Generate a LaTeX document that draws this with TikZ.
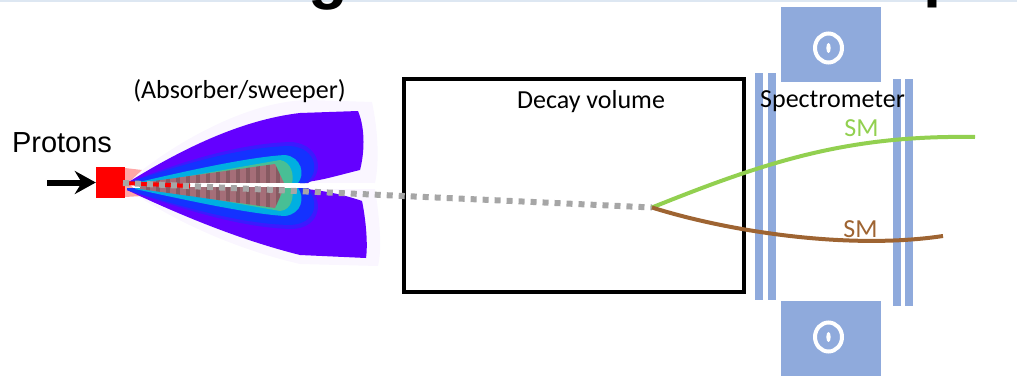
\documentclass[tikz,border=0pt]{standalone}
\usepackage{fontspec}
\setmainfont{Carlito}
\newfontfamily\arialfont{Liberation Sans}
\usetikzlibrary{arrows.meta,positioning}

\definecolor{magblue}{HTML}{8FAADC}
\definecolor{smgreen}{HTML}{92D050}
\definecolor{smbrown}{RGB}{158,100,50}
\definecolor{beamgray}{HTML}{A6A6A6}
\definecolor{rulecol}{HTML}{DDE7F2}
\definecolor{plumeviolet}{RGB}{100,0,255}
\definecolor{plumeblue}{RGB}{20,50,255}
\definecolor{plumecyan}{RGB}{0,175,225}
\definecolor{plumegreen}{RGB}{90,195,130}
\definecolor{plumecore}{RGB}{165,110,120}

\begin{document}
\begin{tikzpicture}[x=1pt, y=-1pt,
  lbl/.style={font=\fontsize{26}{30}\selectfont, inner sep=0pt, anchor=base},
  ttl/.style={font=\arialfont\bfseries\fontsize{65}{70}\selectfont, inner sep=0pt},
  magnet/.style={fill=magblue, minimum width=100pt, minimum height=75pt, inner sep=0pt},
  plate/.style={fill=magblue},
  fieldsym/.style={white, line width=4pt},
  track/.style={line width=4pt},
  beam/.style={beamgray, line width=6pt, dash pattern=on 6pt off 6pt},
  parr/.style={-{Stealth[length=21pt, width=23pt, inset=7pt]}, line width=6pt}
]
\useasboundingbox (0,0) rectangle (1017,380);

% slide title, cut off at the top
\draw[rulecol, line width=2pt] (0,1) -- (1017,1);
\begin{scope}
  \clip (0,0) rectangle (1017,380);
  \node[ttl, anchor=base] (ttlg) at (328,-4) {g};
  \node[ttl, anchor=base west] (ttlp) at (923,-5.5) {p};
\end{scope}

% target and incoming beam
\node[fill=red, minimum width=29pt, minimum height=31pt, inner sep=0pt] (tgt) at (110.5,182.5) {};
\fill[red, opacity=0.35] (125,168) -- (142,170) -- (128,183) -- (142,196) -- (125,197) -- cycle;
\coordinate (ptail) at (47,182.5);
\draw[parr] (ptail) -- (tgt.west);
\node[font=\arialfont\fontsize{29}{32}\selectfont, inner sep=0pt, anchor=base] (protons) at (62,152) {Protons};

% shower in the absorber
\fill[plumeviolet, opacity=0.035] (127,182) .. controls (190,130) and (260,100) .. (310,100)
  -- (372,102) .. controls (380,140) and (378,170) .. (375,183) -- cycle;
\fill[plumeviolet, opacity=0.035] (127,189) -- (375,189) .. controls (380,220) and (382,250) .. (378,266)
  -- (300,264) .. controls (240,250) and (180,225) .. cycle;
\fill[plumeviolet] (127,183) .. controls (180,150) and (240,120) .. (300,113) -- (358,111)
  .. controls (366,130) and (364,155) .. (360,170) .. controls (335,176) and (315,183) .. (290,183) -- cycle;
\fill[plumeviolet] (127,188) -- (290,188) .. controls (320,189) and (345,195) .. (362,201)
  .. controls (366,220) and (368,245) .. (366,258) -- (300,255) .. controls (240,240) and (180,215) .. (127,190) -- cycle;
\fill[plumeviolet!50!plumeblue] (127,183) .. controls (180,162) and (240,143) .. (292,142)
  .. controls (322,145) and (324,175) .. (308,183) -- cycle;
\fill[plumeviolet!50!plumeblue] (127,188) -- (308,188) .. controls (324,198) and (322,228) .. (292,229)
  .. controls (240,228) and (180,208) .. (127,190) -- cycle;
\fill[plumeblue] (127,183) .. controls (180,165) and (240,147) .. (290,146)
  .. controls (318,148) and (320,175) .. (305,183) -- cycle;
\fill[plumeblue] (127,188) -- (305,188) .. controls (320,198) and (318,224) .. (290,225)
  .. controls (240,224) and (180,206) .. (127,190) -- cycle;
\fill[plumecyan] (135,183) .. controls (190,170) and (250,157) .. (285,155)
  .. controls (302,157) and (305,175) .. (298,183) -- cycle;
\fill[plumecyan] (135,188) -- (298,188) .. controls (305,197) and (302,214) .. (285,216)
  .. controls (250,214) and (190,201) .. (135,189) -- cycle;
\fill[plumegreen, opacity=0.8] (150,183) -- (280,160) .. controls (292,162) and (294,176) .. (292,183) -- cycle;
\fill[plumegreen, opacity=0.8] (150,188) -- (292,188) .. controls (294,196) and (292,210) .. (280,211) -- cycle;
\begin{scope}
  \clip (140,183) -- (275,164) -- (284,183) -- (284,188) -- (275,208) -- (140,189) -- cycle;
  \fill[plumecore] (140,160) rectangle (290,212);
  \foreach \x in {146,156,...,276}
    \fill[plumecore!60!black, opacity=0.45] (\x,160) rectangle ++(4,52);
\end{scope}
\fill[white] (190,183) rectangle (300,187);
\node[lbl] (absorb) at (239.5,98) {(Absorber/sweeper)};

% decay volume
\node[draw, line width=4pt, minimum width=340pt, minimum height=213pt, inner sep=0pt] (decay) at (574,185.5) {};
\node[lbl] (decaylbl) at (591,108) {Decay volume};

% spectrometer magnets and tracking planes
\node[magnet] (magtop) at (831,44) {};
\node[magnet] (magbot) at (831,338) {};
\draw[fieldsym] (828.5,48) ellipse [x radius=13.5, y radius=14.5];
\fill[white] (828.5,48) ellipse [x radius=2.2, y radius=5];
\draw[fieldsym] (828.5,337) ellipse [x radius=13.5, y radius=14.5];
\fill[white] (828.5,337) ellipse [x radius=2.2, y radius=5];
\fill[plate] (755,73) rectangle (763,300);
\fill[plate] (768,73) rectangle (776,300);
\fill[plate] (893,79) rectangle (901,306);
\fill[plate] (905,79) rectangle (913,306);
\node[lbl] (spectro) at (832.5,107) {Spectrometer};

% hidden particle and its decay products
\coordinate (src) at (123,183);
\coordinate (vtx) at (652,207.5);
\coordinate (greenend) at (975,137);
\coordinate (brownend) at (943,236);
\draw[red, line width=4pt] (src) -- (190,186);
\draw[beam] (src) -- (vtx);
\draw[track, smgreen] (vtx) .. controls (770,160) and (850,135) .. (greenend);
\draw[track, smbrown] (vtx) .. controls (730,232) and (850,250) .. (brownend);
\node[lbl, smgreen] (smup) at (861.5,136) {SM};
\node[lbl, smbrown] (smdown) at (860.5,237) {SM};
\end{tikzpicture}
\end{document}
